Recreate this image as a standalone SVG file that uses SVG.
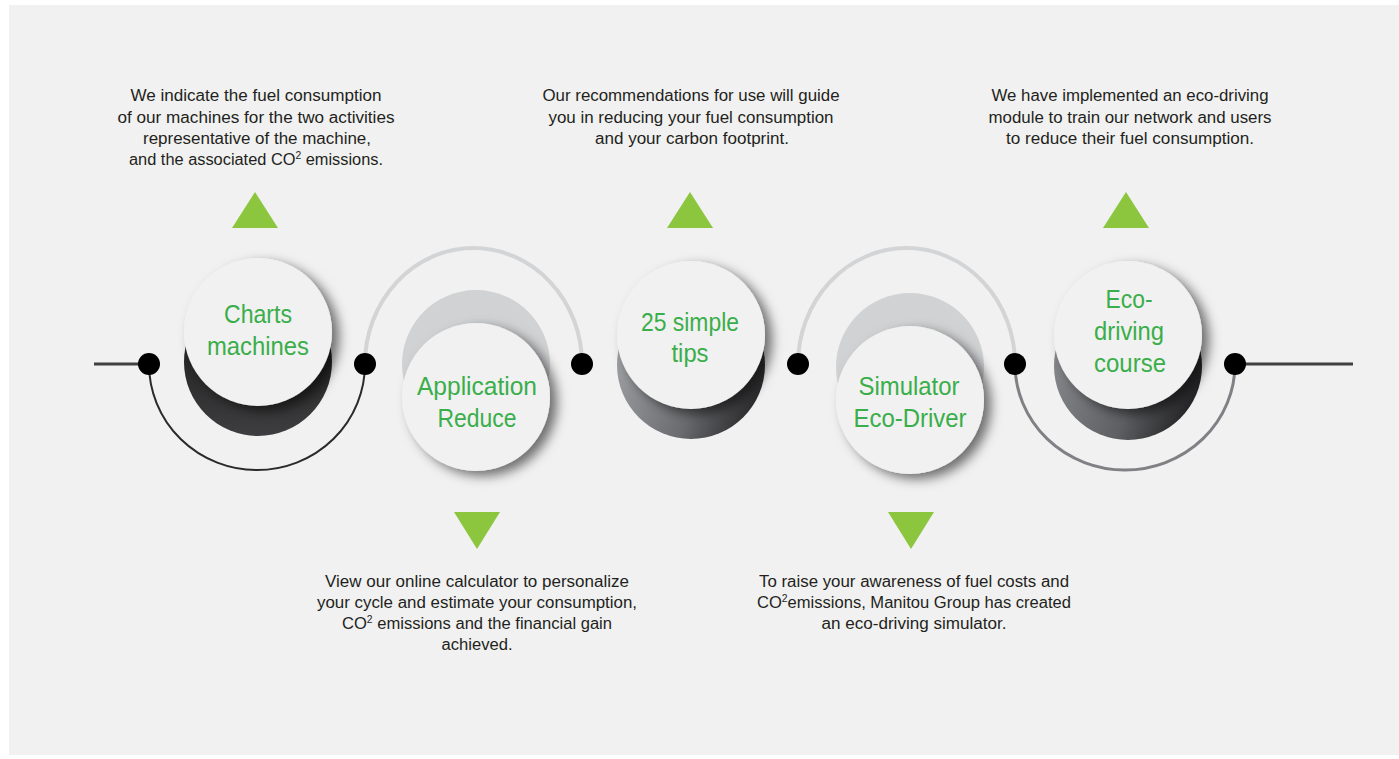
<svg xmlns="http://www.w3.org/2000/svg" width="1399" height="759" viewBox="0 0 1399 759">
<style>
.body{font-family:"Liberation Sans Narrow","Liberation Sans",Arial,sans-serif;font-size:16px;fill:#231f20;text-anchor:middle}
.lbl{font-family:"Liberation Sans Narrow","Liberation Sans",Arial,sans-serif;font-size:25px;fill:#3aae4a;text-anchor:middle}
.dot{fill:#000}
.tri{fill:#8cc63f}
.face{fill:#f1f1f1;filter:url(#ds)}
.sup{font-size:10px}
</style>
<defs>
<filter id="ds" x="-30%" y="-30%" width="170%" height="170%">
<feDropShadow dx="7" dy="5" stdDeviation="6" flood-color="#000" flood-opacity="0.55"/>
</filter>
<linearGradient id="g1" x1="0" y1="0" x2="0" y2="1">
<stop offset="0" stop-color="#111"/><stop offset="1" stop-color="#3e3e40"/>
</linearGradient>
<linearGradient id="g3" x1="0" y1="0.3" x2="1" y2="0.7">
<stop offset="0" stop-color="#a3a4a7"/><stop offset="0.6" stop-color="#6a6b6e"/><stop offset="1" stop-color="#252527"/>
</linearGradient>
<linearGradient id="g5" x1="0" y1="0.3" x2="1" y2="0.7">
<stop offset="0" stop-color="#8a8b8f"/><stop offset="0.6" stop-color="#5e5f62"/><stop offset="1" stop-color="#1e1e20"/>
</linearGradient>
</defs>
<rect x="0" y="0" width="1399" height="759" fill="#fff"/>
<rect x="9" y="5" width="1390" height="750" fill="#f1f1f1"/>

<g id="connectors" fill="none">
<line x1="94" y1="364" x2="149" y2="364" stroke="#404042" stroke-width="3"/>
<line x1="1235" y1="364" x2="1353" y2="364" stroke="#404042" stroke-width="3"/>
<path d="M149 364 A108 106 0 0 0 365 364" stroke="#2a2a2c" stroke-width="2"/>
<path d="M365 364 A108.5 116 0 0 1 582 364" stroke="#d3d4d6" stroke-width="4"/>
<path d="M798 364 A108.5 116 0 0 1 1015 364" stroke="#d3d4d6" stroke-width="4"/>
<path d="M1015 364 A110 106 0 0 0 1235 364" stroke="#808184" stroke-width="3"/>
</g>

<g id="node1">
<circle cx="258" cy="362" r="74" fill="url(#g1)"/>
<circle class="face" cx="258" cy="332" r="74"/>
<text class="lbl" x="258" y="323" textLength="68" lengthAdjust="spacingAndGlyphs">Charts</text>
<text class="lbl" x="258" y="355" textLength="102" lengthAdjust="spacingAndGlyphs">machines</text>
<polygon class="tri" points="255,192 278,228 232,228"/>
<text class="body" x="256" y="101" textLength="251" lengthAdjust="spacingAndGlyphs">We indicate the fuel consumption</text>
<text class="body" x="256" y="123" textLength="277" lengthAdjust="spacingAndGlyphs">of our machines for the two activities</text>
<text class="body" x="257" y="144" textLength="228" lengthAdjust="spacingAndGlyphs">representative of the machine,</text>
<text class="body" x="256" y="165" textLength="254" lengthAdjust="spacingAndGlyphs">and the associated CO<tspan class="sup" dy="-6">2</tspan><tspan dy="6"> emissions.</tspan></text>
</g>

<g id="node2">
<circle cx="476" cy="364" r="74" fill="#d1d2d4"/>
<circle class="face" cx="476" cy="397" r="74"/>
<text class="lbl" x="477" y="395" textLength="120" lengthAdjust="spacingAndGlyphs">Application</text>
<text class="lbl" x="477" y="427" textLength="79" lengthAdjust="spacingAndGlyphs">Reduce</text>
<polygon class="tri" points="454,512 500,512 477,549"/>
<text class="body" x="477" y="587" textLength="304" lengthAdjust="spacingAndGlyphs">View our online calculator to personalize</text>
<text class="body" x="477" y="608" textLength="320" lengthAdjust="spacingAndGlyphs">your cycle and estimate your consumption,</text>
<text class="body" x="477" y="629" textLength="270" lengthAdjust="spacingAndGlyphs">CO<tspan class="sup" dy="-6">2</tspan><tspan dy="6"> emissions and the financial gain</tspan></text>
<text class="body" x="477" y="650" textLength="71" lengthAdjust="spacingAndGlyphs">achieved.</text>
</g>

<g id="node3">
<circle cx="691" cy="365" r="74" fill="url(#g3)"/>
<circle class="face" cx="691" cy="335" r="74"/>
<text class="lbl" x="690" y="331" textLength="98" lengthAdjust="spacingAndGlyphs">25 simple</text>
<text class="lbl" x="690" y="362" textLength="37" lengthAdjust="spacingAndGlyphs">tips</text>
<polygon class="tri" points="690,192 713,228 667,228"/>
<text class="body" x="691" y="101" textLength="297" lengthAdjust="spacingAndGlyphs">Our recommendations for use will guide</text>
<text class="body" x="691" y="123" textLength="285" lengthAdjust="spacingAndGlyphs">you in reducing your fuel consumption</text>
<text class="body" x="692" y="144" textLength="194" lengthAdjust="spacingAndGlyphs">and your carbon footprint.</text>
</g>

<g id="node4">
<circle cx="910" cy="367" r="74" fill="#d1d2d4"/>
<circle class="face" cx="910" cy="400" r="74"/>
<text class="lbl" x="909" y="395" textLength="101" lengthAdjust="spacingAndGlyphs">Simulator</text>
<text class="lbl" x="910" y="427" textLength="113" lengthAdjust="spacingAndGlyphs">Eco-Driver</text>
<polygon class="tri" points="888,512 934,512 911,549"/>
<text class="body" x="914" y="587" textLength="310" lengthAdjust="spacingAndGlyphs">To raise your awareness of fuel costs and</text>
<text class="body" x="914" y="608" textLength="314" lengthAdjust="spacingAndGlyphs">CO<tspan class="sup" dy="-6">2</tspan><tspan dy="6">emissions, Manitou Group has created</tspan></text>
<text class="body" x="914" y="629" textLength="185" lengthAdjust="spacingAndGlyphs">an eco-driving simulator.</text>
</g>

<g id="node5">
<circle cx="1128" cy="366" r="74" fill="url(#g5)"/>
<circle class="face" cx="1128" cy="335" r="74"/>
<text class="lbl" x="1129" y="308" textLength="47" lengthAdjust="spacingAndGlyphs">Eco-</text>
<text class="lbl" x="1129" y="340" textLength="70" lengthAdjust="spacingAndGlyphs">driving</text>
<text class="lbl" x="1130" y="372" textLength="72" lengthAdjust="spacingAndGlyphs">course</text>
<polygon class="tri" points="1126,192 1149,228 1103,228"/>
<text class="body" x="1130" y="101" textLength="277" lengthAdjust="spacingAndGlyphs">We have implemented an eco-driving</text>
<text class="body" x="1130" y="123" textLength="283" lengthAdjust="spacingAndGlyphs">module to train our network and users</text>
<text class="body" x="1130" y="144" textLength="248" lengthAdjust="spacingAndGlyphs">to reduce their fuel consumption.</text>
</g>

<g id="dots">
<circle class="dot" cx="149" cy="364" r="11"/>
<circle class="dot" cx="365" cy="364" r="11"/>
<circle class="dot" cx="582" cy="364" r="11"/>
<circle class="dot" cx="798" cy="364" r="11"/>
<circle class="dot" cx="1015" cy="364" r="11"/>
<circle class="dot" cx="1235" cy="364" r="11"/>
</g>
</svg>
